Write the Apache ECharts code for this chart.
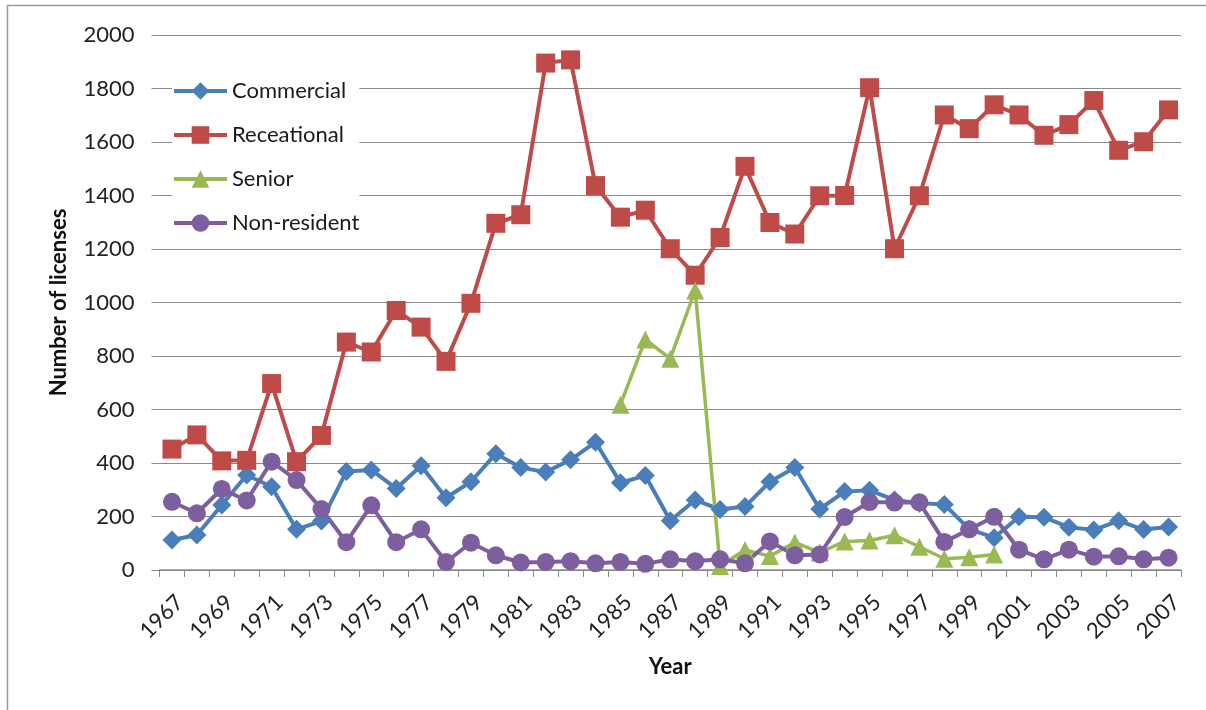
<!DOCTYPE html>
<html>
<head>
<meta charset="utf-8">
<script src="https://cdn.jsdelivr.net/npm/echarts@6/dist/echarts.min.js"></script>
<style>
  html, body { margin: 0; padding: 0; background: #fff; }
  #chart { width: 1206px; height: 710px; }
</style>
</head>
<body>
<div id="chart"></div>
<script>
const years = [];
for (let y = 1967; y <= 2007; y++) years.push(String(y));

const commercial = [112,131,243,355,311,152,183,368,374,305,390,270,330,
  435,383,366,412,478,326,353,184,262,226,237,330,383,
  228,293,298,262,250,245,153,121,199,197,160,150,184,151,161];

const recreational = [452,505,408,410,697,405,503,852,815,970,908,780,997,
  1296,1328,1895,1907,1437,1319,1345,1201,1102,1243,1509,1299,1256,
  1399,1400,1803,1201,1399,1701,1650,1739,1701,1625,1665,1755,1569,1601,1720];

const senior = [null,null,null,null,null,null,null,null,null,null,null,null,null,
  null,null,null,null,null,618,862,790,1045,15,75,52,103,
  65,107,110,130,87,42,48,58,null,null,null,null,null,null,null];

const nonResident = [255,212,303,260,405,336,228,104,242,104,152,30,102,
  55,28,30,33,25,30,23,40,33,40,25,107,55,
  58,198,254,252,253,105,152,199,76,40,76,50,51,40,46];

const yTicks = { min: 0, max: 2000, interval: 200 };

const chart = echarts.init(document.getElementById('chart'));
const font = 'Lato, "Open Sans", sans-serif';
const gridColor = '#8a8a8a';

function mkSeries(name, data, color, symbol, size, width) {
  return {
    name, type: 'line', data,
    symbol, symbolSize: size,
    showAllSymbol: true,
    lineStyle: { color, width },
    itemStyle: { color },
    emphasis: { disabled: true },
    animation: false
  };
}

chart.setOption({
  backgroundColor: '#fff',
  textStyle: { fontFamily: font },
  animation: false,
  graphic: [
    { type: 'line', shape: { x1: 7.5, y1: 5, x2: 7.5, y2: 710 }, style: { stroke: '#9a9a9a', lineWidth: 1.5 } },
    { type: 'line', shape: { x1: 7.5, y1: 5.5, x2: 1206, y2: 5.5 }, style: { stroke: '#9a9a9a', lineWidth: 1.5 } }
  ],
  grid: { left: 159.5, right: 25, top: 35, bottom: 140, containLabel: false },
  legend: {
    orient: 'vertical',
    left: 172, top: 80, padding: 0,
    itemWidth: 53, itemHeight: 22, itemGap: 22,
    lineStyle: { width: 4 },
    textStyle: { fontSize: 22, color: '#1a1a1a', fontFamily: font, lineHeight: 22 },
    backgroundColor: '#fff',
    data: ['Commercial', 'Receational', 'Senior', 'Non-resident']
  },
  xAxis: {
    type: 'category',
    data: years,
    boundaryGap: true,
    name: 'Year',
    nameLocation: 'middle',
    nameGap: 86,
    nameTextStyle: { fontSize: 22, fontWeight: 'bold', color: '#111', fontFamily: font },
    axisLine: { lineStyle: { color: gridColor, width: 1.5 } },
    axisTick: { show: true, interval: 0, length: 7, lineStyle: { color: gridColor } },
    axisLabel: {
      interval: 1, rotate: 45, fontSize: 22, color: '#222', margin: 21,
      verticalAlign: 'top', fontFamily: font
    },
    splitLine: { show: false }
  },
  yAxis: {
    type: 'value',
    min: yTicks.min, max: yTicks.max, interval: yTicks.interval,
    name: 'Number of licenses',
    nameLocation: 'middle',
    nameRotate: 90,
    nameGap: 90,
    nameTextStyle: { fontSize: 22, fontWeight: 'bold', color: '#111', fontFamily: font },
    axisLine: { show: false },
    axisTick: { show: true, length: 8, lineStyle: { color: gridColor } },
    axisLabel: { fontSize: 22, color: '#222', margin: 25, fontFamily: font, formatter: v => String(v) },
    splitLine: { lineStyle: { color: gridColor, width: 1.2 } }
  },
  series: [
    mkSeries('Commercial', commercial, '#4A7EBB', 'diamond', 19, 4),
    mkSeries('Receational', recreational, '#BE4B48', 'rect', 19, 4),
    mkSeries('Senior', senior, '#98B954', 'triangle', 18, 3.5),
    mkSeries('Non-resident', nonResident, '#7D5FA0', 'circle', 18, 4)
  ]
});
</script>
</body>
</html>
